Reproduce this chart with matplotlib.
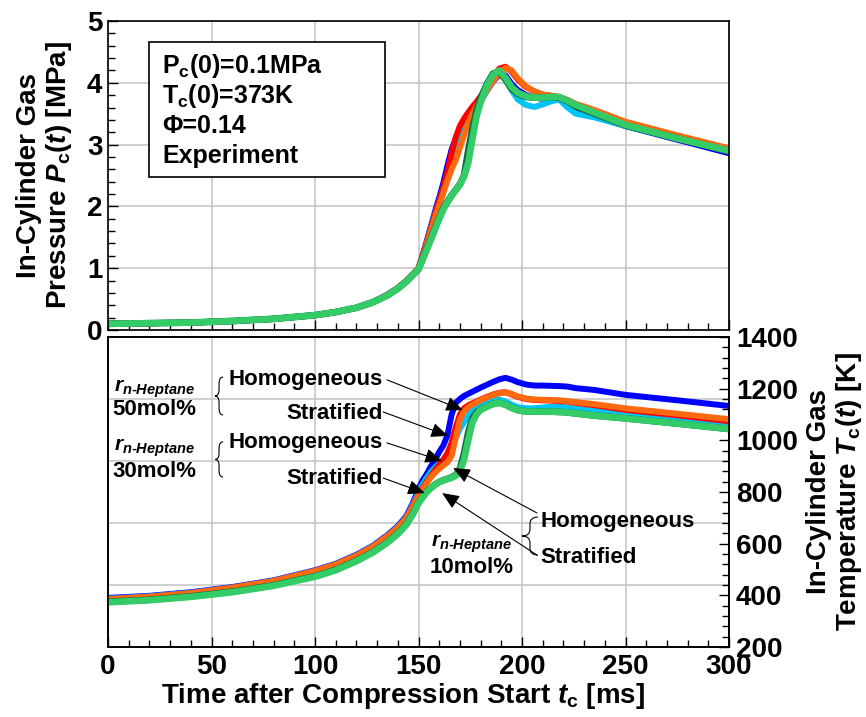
import matplotlib
matplotlib.use("Agg")
import matplotlib.pyplot as plt
from matplotlib.path import Path
from matplotlib.patches import PathPatch, Rectangle
from matplotlib.ticker import MultipleLocator

plt.rcParams.update({
    "font.family": ["Liberation Sans", "DejaVu Sans"],
    "font.weight": "bold",
    "mathtext.fontset": "custom",
    "mathtext.rm": "Liberation Sans:bold",
    "mathtext.it": "Liberation Sans:italic:bold",
    "mathtext.bf": "Liberation Sans:bold",
})

# ---- measured traces (time after compression start, ms) ----
time_ms = [0, 20, 40, 60, 80, 100, 110, 120, 128, 135, 140, 144, 147, 150,
           152, 154, 156, 158, 160, 162, 164, 166, 168, 170, 172, 174, 176, 178, 180,
           183, 186, 189, 192, 195, 198, 202, 206, 210, 214, 218, 222, 226, 235, 250, 275, 300]

# in-cylinder pressure [MPa]
p_blue = [0.10, 0.11, 0.12, 0.145, 0.18, 0.24, 0.29, 0.36, 0.45, 0.57, 0.68, 0.79, 0.89, 1.00,
          1.21, 1.44, 1.68, 1.92, 2.14, 2.38, 2.66, 2.92, 3.10, 3.24, 3.35, 3.44, 3.53, 3.61, 3.71,
          3.87, 4.02, 4.13, 4.12, 3.98, 3.88, 3.80, 3.76, 3.74, 3.74, 3.74, 3.68, 3.60, 3.50, 3.30, 3.08, 2.86]
p_cyan = [0.10, 0.11, 0.12, 0.145, 0.18, 0.24, 0.29, 0.36, 0.45, 0.57, 0.68, 0.79, 0.89, 1.00,
          1.20, 1.42, 1.66, 1.88, 2.08, 2.30, 2.52, 2.74, 2.92, 3.12, 3.28, 3.40, 3.50, 3.60, 3.70,
          3.87, 4.03, 4.15, 4.08, 3.88, 3.73, 3.64, 3.61, 3.65, 3.70, 3.73, 3.60, 3.50, 3.44, 3.30, 3.10, 2.90]
p_red = [0.10, 0.11, 0.12, 0.145, 0.18, 0.24, 0.29, 0.36, 0.45, 0.57, 0.68, 0.79, 0.89, 1.00,
         1.20, 1.41, 1.64, 1.87, 2.08, 2.30, 2.56, 2.86, 3.12, 3.30, 3.42, 3.52, 3.61, 3.69, 3.78,
         3.92, 4.10, 4.23, 4.26, 4.18, 4.05, 3.93, 3.86, 3.81, 3.79, 3.77, 3.72, 3.65, 3.55, 3.36, 3.14, 2.93]
p_orange = [0.10, 0.11, 0.12, 0.145, 0.18, 0.24, 0.29, 0.36, 0.45, 0.57, 0.68, 0.79, 0.89, 1.00,
            1.18, 1.38, 1.60, 1.82, 2.02, 2.22, 2.42, 2.60, 2.75, 2.95, 3.15, 3.35, 3.50, 3.62, 3.72,
            3.88, 4.03, 4.15, 4.24, 4.20, 4.07, 3.94, 3.86, 3.81, 3.79, 3.77, 3.72, 3.66, 3.56, 3.37, 3.15, 2.94]
p_dkgreen = [0.10, 0.11, 0.12, 0.145, 0.18, 0.24, 0.29, 0.36, 0.45, 0.56, 0.67, 0.78, 0.88, 0.98,
             1.15, 1.32, 1.48, 1.65, 1.82, 1.97, 2.08, 2.18, 2.27, 2.36, 2.50, 2.90, 3.25, 3.55, 3.75,
             3.98, 4.15, 4.18, 4.05, 3.90, 3.82, 3.77, 3.76, 3.76, 3.77, 3.76, 3.70, 3.62, 3.50, 3.31, 3.10, 2.89]
p_green = [0.10, 0.11, 0.12, 0.145, 0.18, 0.24, 0.29, 0.36, 0.45, 0.56, 0.67, 0.78, 0.88, 0.98,
           1.14, 1.30, 1.46, 1.63, 1.80, 1.95, 2.07, 2.17, 2.26, 2.35, 2.48, 2.70, 3.08, 3.45, 3.68,
           3.95, 4.13, 4.20, 4.08, 3.93, 3.84, 3.78, 3.76, 3.76, 3.77, 3.77, 3.71, 3.64, 3.52, 3.32, 3.10, 2.90]

# in-cylinder gas temperature [K]
t_blue = [390, 398, 412, 432, 458, 497, 522, 557, 592, 633, 668, 705, 752, 812,
          845, 870, 900, 925, 955, 980, 1020, 1100, 1145, 1160, 1172, 1180, 1188, 1196, 1204,
          1215, 1226, 1236, 1242, 1235, 1225, 1216, 1212, 1212, 1211, 1210, 1208, 1202, 1195, 1176, 1155, 1133]
t_cyan = [387, 396, 410, 430, 456, 495, 520, 555, 590, 630, 665, 700, 745, 800,
          830, 855, 878, 895, 910, 925, 940, 965, 1010, 1045, 1070, 1092, 1122, 1134, 1140,
          1148, 1155, 1158, 1150, 1138, 1128, 1124, 1124, 1127, 1130, 1130, 1127, 1122, 1115, 1098, 1079, 1059]
t_red = [385, 394, 408, 429, 455, 494, 519, 553, 588, 628, 662, 697, 740, 790,
         815, 840, 862, 885, 905, 925, 950, 990, 1050, 1100, 1124, 1135, 1143, 1150, 1158,
         1168, 1177, 1184, 1186, 1178, 1168, 1160, 1156, 1155, 1154, 1152, 1150, 1145, 1136, 1118, 1097, 1074]
t_orange = [385, 394, 408, 429, 455, 494, 519, 553, 588, 628, 662, 697, 738, 786,
            810, 835, 857, 875, 890, 903, 915, 940, 1010, 1080, 1112, 1128, 1138, 1147, 1156,
            1166, 1175, 1182, 1186, 1180, 1170, 1162, 1158, 1157, 1156, 1155, 1152, 1148, 1140, 1124, 1103, 1082]
t_dkgreen = [375, 383, 396, 414, 439, 474, 499, 534, 568, 606, 640, 674, 712, 758,
             781, 801, 816, 829, 839, 846, 851, 857, 866, 890, 950, 1030, 1085, 1108, 1120,
             1131, 1141, 1146, 1138, 1126, 1117, 1112, 1111, 1111, 1111, 1110, 1108, 1104, 1096, 1085, 1065, 1044]
t_green = [373, 381, 394, 412, 437, 472, 497, 532, 566, 604, 638, 672, 710, 757,
           780, 800, 815, 828, 838, 845, 850, 855, 863, 880, 925, 1000, 1068, 1100, 1118,
           1130, 1140, 1146, 1138, 1126, 1117, 1112, 1111, 1111, 1111, 1110, 1108, 1104, 1096, 1085, 1065, 1044]

colors = {"blue": "#0000ff", "cyan": "#00c4f5", "red": "#ff0000",
          "orange": "#ff6a10", "dkgreen": "#0b6b3a", "green": "#33cc66"}
pressure = [("blue", p_blue), ("cyan", p_cyan), ("red", p_red),
            ("orange", p_orange), ("dkgreen", p_dkgreen), ("green", p_green)]
temperature = [("blue", t_blue), ("cyan", t_cyan), ("red", t_red),
               ("orange", t_orange), ("dkgreen", t_dkgreen), ("green", t_green)]

x_ticks = [0, 50, 100, 150, 200, 250, 300]
p_ticks = [0, 1, 2, 3, 4, 5]
t_ticks = [200, 400, 600, 800, 1000, 1200, 1400]

TICK_FS = 20
GRID = dict(color="#c4c4c4", linewidth=1.1)

fig = plt.figure(figsize=(8.66, 7.17), dpi=100)
W, H = 866, 717
ax1 = fig.add_axes([108 / W, 1 - 330 / H, 621 / W, 309 / H])
ax2 = fig.add_axes([108 / W, 1 - 647 / H, 621 / W, 310 / H])
ax3 = ax2.twinx()


def style_spines(ax):
    for s in ax.spines.values():
        s.set_linewidth(1.2)
        s.set_color("black")


def line_width(name):
    return 4.8 if "green" in name else 4.3


# ---- top panel: pressure ----
for name, vals in pressure:
    ax1.plot(time_ms, vals, color=colors[name], lw=line_width(name),
             solid_capstyle="round", solid_joinstyle="round")
ax1.set_xlim(0, 300)
ax1.set_ylim(0, 5)
ax1.set_xticks(x_ticks)
ax1.set_yticks(p_ticks)
ax1.xaxis.set_minor_locator(MultipleLocator(10))
ax1.yaxis.set_minor_locator(MultipleLocator(0.2))
ax1.grid(True, which="major", **GRID)
ax1.set_axisbelow(True)
ax1.tick_params(axis="both", which="both", direction="in", top=False, right=False)
ax1.tick_params(axis="x", which="both", labelbottom=False)
ax1.tick_params(axis="y", which="major", length=7, width=1, labelsize=TICK_FS, pad=4)
ax1.tick_params(axis="y", which="minor", length=5, width=1)
ax1.tick_params(axis="x", which="major", length=7, width=1)
ax1.tick_params(axis="x", which="minor", length=5, width=1)
style_spines(ax1)

# condition box
ax1.add_patch(Rectangle((0.066, 0.495), 0.380, 0.437, transform=ax1.transAxes,
                        facecolor="white", edgecolor="black", lw=1.2, zorder=5))
box_lines = ["P$_\\mathrm{c}$(0)=0.1MPa", "T$_\\mathrm{c}$(0)=373K",
             "Φ=0.14", "Experiment"]
for i, line in enumerate(box_lines):
    ax1.text(0.087, 0.832 - i * 0.097, line, transform=ax1.transAxes,
             fontsize=18, fontweight="bold", ha="left", va="baseline", zorder=6)

# ---- bottom panel: temperature ----
ax2.set_xlim(0, 300)
ax2.set_ylim(0, 5)
ax2.set_yticks([1, 2, 3, 4])
ax2.set_xticks(x_ticks)
ax2.xaxis.set_minor_locator(MultipleLocator(10))
ax2.grid(True, which="major", **GRID)
ax2.set_axisbelow(True)
ax2.tick_params(axis="y", left=False, labelleft=False, right=False)
ax2.tick_params(axis="x", which="both", direction="in", top=False, labelsize=TICK_FS, pad=5)
ax2.tick_params(axis="x", which="major", length=7, width=1)
ax2.tick_params(axis="x", which="minor", length=5, width=1)
style_spines(ax2)

for name, vals in temperature:
    ax3.plot(time_ms, vals, color=colors[name], lw=line_width(name),
             solid_capstyle="round", solid_joinstyle="round")
ax3.set_ylim(200, 1400)
ax3.set_yticks(t_ticks)
ax3.yaxis.set_minor_locator(MultipleLocator(40))
ax3.tick_params(axis="y", which="both", direction="in", labelsize=TICK_FS, pad=5)
ax3.tick_params(axis="y", which="major", length=7, width=1)
ax3.tick_params(axis="y", which="minor", length=5, width=1)
style_spines(ax3)

# callouts
arrow_kw = dict(arrowstyle="-|>,head_length=0.7,head_width=0.3", mutation_scale=15,
                color="black", lw=0.8, shrinkA=0, shrinkB=0)
callouts = [((134.8, 1234), (171.5, 1117)),
            ((132.9, 1110), (164.3, 1017)),
            ((134.8, 990), (161.4, 920)),
            ((132.9, 854), (153.1, 796)),
            ((207.2, 719), (166.7, 893)),
            ((207.2, 556), (161.4, 796))]
for tail, head in callouts:
    ax3.annotate("", xy=head, xytext=tail, arrowprops=arrow_kw, zorder=7)

LAB_FS = 16
for y, s in [(1234, "Homogeneous"), (1102, "Stratified"),
             (990, "Homogeneous"), (854, "Stratified")]:
    ax3.text(132.6, y, s, fontsize=LAB_FS, ha="right", va="center")
ax3.text(208.7, 684, "Homogeneous", fontsize=LAB_FS, ha="left", va="center")
ax3.text(208.7, 548, "Stratified", fontsize=LAB_FS, ha="left", va="center")

heptane = r"$r_{n\text{-}Heptane}$"
for (x, y1, y2, pct) in [(22.5, 1200, 1118, "50mol%"), (22.5, 971, 878, "30mol%"),
                         (175.6, 600, 507, "10mol%")]:
    ax3.text(x, y1, heptane, fontsize=15, ha="center", va="center")
    ax3.text(x, y2, pct, fontsize=LAB_FS, ha="center", va="center")


def brace(ax, x_tip, x_end, y_top, y_bot):
    xc = (x_tip + x_end) / 2
    ym = (y_top + y_bot) / 2
    d = 0.18 * (y_top - y_bot)
    verts = [(x_end, y_top), (xc, y_top), (xc, y_top - d),
             (xc, ym + d), (xc, ym), (x_tip, ym),
             (xc, ym), (xc, ym - d),
             (xc, y_bot + d), (xc, y_bot), (x_end, y_bot)]
    codes = [Path.MOVETO, Path.CURVE3, Path.CURVE3,
             Path.LINETO, Path.CURVE3, Path.CURVE3,
             Path.CURVE3, Path.CURVE3,
             Path.LINETO, Path.CURVE3, Path.CURVE3]
    ax.add_patch(PathPatch(Path(verts, codes), facecolor="none",
                           edgecolor="black", lw=0.8))


brace(ax3, 51.7, 55.6, 1245, 1098)
brace(ax3, 51.7, 55.6, 994, 858)
brace(ax3, 200.0, 207.7, 703, 556)

# axis titles
fig.text(45 / W, 1 - 175 / H, "In-Cylinder Gas\nPressure $P_\\mathrm{c}(t)$ [MPa]",
         rotation=90, ha="center", va="center", fontsize=20, linespacing=1.1,
         multialignment="center")
fig.text(835 / W, 1 - 492 / H, "In-Cylinder Gas\nTemperature $T_\\mathrm{c}(t)$ [K]",
         rotation=90, ha="center", va="center", fontsize=20, linespacing=1.1,
         multialignment="center")
fig.text(403 / W, 1 - 703 / H, "Time after Compression Start $t_\\mathrm{c}$ [ms]",
         ha="center", va="baseline", fontsize=20)

fig.savefig("out.png", dpi=100)
